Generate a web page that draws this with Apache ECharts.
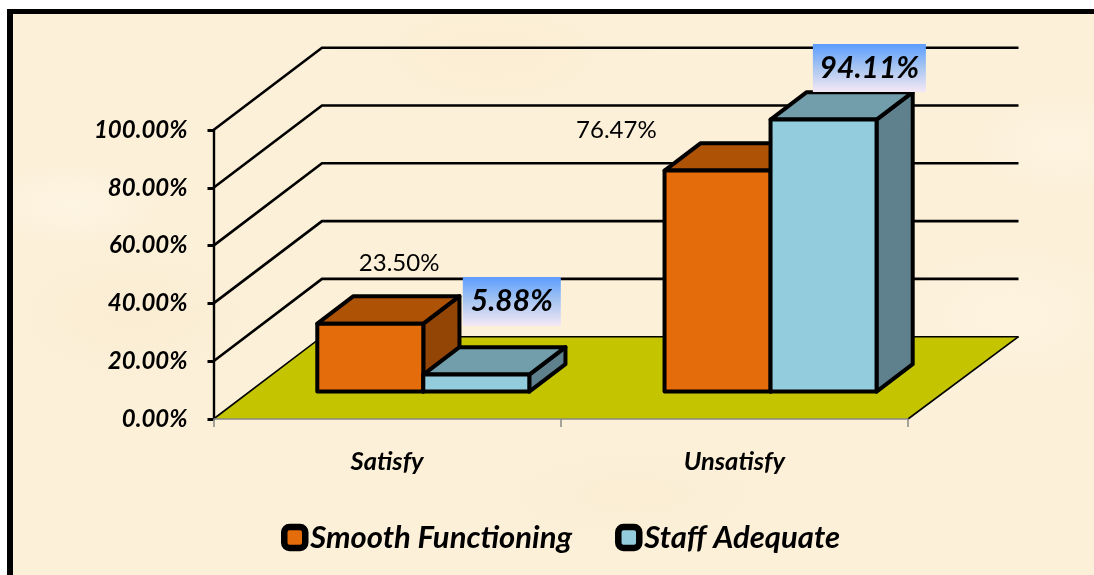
<!DOCTYPE html>
<html>
<head>
<meta charset="utf-8">
<style>
  html, body { margin: 0; padding: 0; background: #fff; overflow: hidden; }
  #paper {
    position: absolute; left: 7px; top: 9px; right: 0; bottom: 0;
    border-left: 6px solid #000; border-top: 5px solid #000;
    background-color: #fcf0d9;
    background-image:
      radial-gradient(ellipse 90px 40px at 60px 190px, rgba(255,250,240,.4), transparent),
      radial-gradient(ellipse 160px 70px at 480px 40px, rgba(249,235,205,.5), transparent),
      radial-gradient(ellipse 90px 50px at 1050px 130px, rgba(255,248,235,.4), transparent),
      radial-gradient(ellipse 150px 80px at 120px 300px, rgba(248,234,205,.5), transparent),
      radial-gradient(ellipse 180px 60px at 620px 480px, rgba(249,235,208,.5), transparent),
      radial-gradient(ellipse 120px 70px at 1000px 300px, rgba(255,248,232,.4), transparent);
  }
  #chart { position: absolute; left: 0; top: 0; width: 1094px; height: 575px; }
</style>
</head>
<body>
<div id="paper"></div>
<div id="chart"></div>
<script src="https://cdn.jsdelivr.net/npm/echarts@6/dist/echarts.min.js"></script>
<script>
const categories = ["Satisfy", "Unsatisfy"];
const smoothFunctioning = [23.5, 76.47];
const staffAdequate = [5.88, 94.11];
const yTicks = [0, 20, 40, 60, 80, 100];

// 3d look: total depth of the floor, one bar takes a third of it
const DEPTH_X = 108.5;
const DEPTH_Y = 82.3;
const BAR_W = 106;
const FONT = "Lato, Carlito, sans-serif";

const orange = { front: "#e46c0a", top: "#ae5206", side: "#934506" };
const blue = { front: "#93cddd", top: "#729dab", side: "#5f818d" };

// floor and back walls
function renderWalls(params, api) {
  if (params.dataIndex !== 0) return;
  const c = params.coordSys;
  const x0 = c.x, x1 = c.x + c.width, yb = c.y + c.height;
  const children = [{
    type: "polygon",
    shape: { points: [[x0, yb], [x1, yb], [x1 + DEPTH_X + 2, yb - DEPTH_Y], [x0 + DEPTH_X, yb - DEPTH_Y]] },
    style: { fill: "#c4c400" }
  }, {
    type: "line",
    shape: { x1: x1, y1: yb, x2: x1 + DEPTH_X + 2, y2: yb - DEPTH_Y },
    style: { stroke: "#000", lineWidth: 1.6 }
  }];
  yTicks.forEach(function (t) {
    const y = api.coord([0, t])[1];
    children.push({
      type: "polyline",
      shape: { points: [[x0, y], [x0 + DEPTH_X, y - DEPTH_Y], [x1 + DEPTH_X + 2, y - DEPTH_Y]] },
      style: { fill: "none", stroke: "#000", lineWidth: t === 0 ? 1.6 : 2.6 }
    });
  });
  return { type: "group", children: children };
}

// one box, side: -1 left of the category centre, 0 right of it
function cube(colors, side) {
  return function (params, api) {
    const p = api.coord([api.value(0), api.value(1)]);
    const base = api.coord([api.value(0), 0]);
    const dx = DEPTH_X / 3, dy = DEPTH_Y / 3;
    const l = p[0] + dx + side * BAR_W, r = l + BAR_W;
    const t = p[1] - dy, b = base[1] - dy;
    const stroke = { stroke: "#000", lineWidth: 4, lineJoin: "round" };
    return {
      type: "group",
      children: [
        { type: "polygon", shape: { points: [[r, t], [r + dx, t - dy], [r + dx, b - dy], [r, b]] },
          style: Object.assign({ fill: colors.side }, stroke) },
        { type: "polygon", shape: { points: [[l, t], [l + dx, t - dy], [r + dx, t - dy], [r, t]] },
          style: Object.assign({ fill: colors.top }, stroke) },
        { type: "polygon", shape: { points: [[l, t], [r, t], [r, b], [l, b]] },
          style: Object.assign({ fill: colors.front }, stroke) }
      ]
    };
  };
}

function rows(values) {
  return values.map(function (v, i) { return [i, v]; });
}

const chart = echarts.init(document.getElementById("chart"), null, { renderer: "canvas" });

// data labels were hand placed in the original, so they carry their own offset from the bar top
function plainLabel(nudges) {
  return function (params, api) {
    const p = api.coord([api.value(0), api.value(1)]);
    const n = nudges[params.dataIndex];
    return {
      type: "text",
      style: {
        x: p[0] + n[0], y: p[1] + n[1],
        text: api.value(1).toFixed(2) + "%",
        fill: "#000", font: "24px " + FONT, align: "center", verticalAlign: "middle"
      }
    };
  };
}

function boxLabel(nudges, sizes) {
  return function (params, api) {
    const p = api.coord([api.value(0), api.value(1)]);
    const n = nudges[params.dataIndex];
    const s = sizes[params.dataIndex];
    const cx = p[0] + n[0], cy = p[1] + n[1];
    return {
      type: "group",
      children: [{
        type: "rect",
        shape: { x: cx - s[0] / 2, y: cy - s[1] / 2, width: s[0], height: s[1] },
        style: {
          fill: new echarts.graphic.LinearGradient(0, 0, 0, 1, [
            { offset: 0, color: "#5c9dff" },
            { offset: 0.5, color: "#a9c6f0" },
            { offset: 1, color: "#f5e8f6" }
          ])
        }
      }, {
        type: "text",
        style: {
          x: cx, y: cy, text: api.value(1).toFixed(2) + "%",
          fill: "#000", font: "italic bold 30px " + FONT, align: "center", verticalAlign: "middle"
        }
      }]
    };
  };
}

chart.setOption({
  animation: false,
  backgroundColor: "transparent",
  grid: { left: 213.5, right: 186, top: 130, bottom: 156, containLabel: false },
  legend: {
    left: 281, top: 522, padding: 0,
    itemWidth: 21, itemHeight: 21, itemGap: 43,
    icon: "roundRect",
    textStyle: { fontFamily: FONT, fontStyle: "italic", fontWeight: "bold", fontSize: 31, color: "#000" },
    data: [
      { name: "Smooth Functioning", itemStyle: { color: orange.front, borderColor: "#000", borderWidth: 6.5 } },
      { name: "Staff Adequate", itemStyle: { color: blue.front, borderColor: "#000", borderWidth: 6.5 } }
    ]
  },
  xAxis: {
    type: "category",
    data: categories,
    z: 10,
    axisLine: { lineStyle: { color: "#888", width: 1.5 } },
    axisTick: { show: true, alignWithLabel: false, length: 8, lineStyle: { color: "#888", width: 1.5 } },
    axisLabel: { margin: 30, fontFamily: FONT, fontStyle: "italic", fontWeight: "bold", fontSize: 25.5, color: "#000" },
    splitLine: { show: false }
  },
  yAxis: {
    type: "value",
    min: 0, max: 100, interval: 20,
    z: 10,
    axisLine: { show: true, lineStyle: { color: "#000", width: 2.4 } },
    axisTick: { show: true, length: 6, lineStyle: { color: "#000", width: 3 } },
    axisLabel: {
      margin: 26, fontFamily: FONT, fontStyle: "italic", fontWeight: "bold", fontSize: 24, color: "#000",
      formatter: function (v) { return v.toFixed(2) + "%"; }
    },
    splitLine: { show: false }
  },
  series: [
    { type: "custom", silent: true, z: 1, renderItem: renderWalls, data: [[0, 0]], encode: { x: 0, y: 1 } },
    { name: "Smooth Functioning", type: "custom", z: 2, renderItem: cube(orange, -1), data: rows(smoothFunctioning), encode: { x: 0, y: 1 } },
    { name: "Staff Adequate", type: "custom", z: 3, renderItem: cube(blue, 0), data: rows(staffAdequate), encode: { x: 0, y: 1 } },
    { type: "custom", silent: true, z: 4, renderItem: plainLabel([[12, -88], [-118, -68]]), data: rows(smoothFunctioning), encode: { x: 0, y: 1 } },
    { type: "custom", silent: true, z: 5, renderItem: boxLabel([[124.7, -100.5], [135, -79]], [[98, 49], [113, 48]]), data: rows(staffAdequate), encode: { x: 0, y: 1 } }
  ]
});
</script>
</body>
</html>
